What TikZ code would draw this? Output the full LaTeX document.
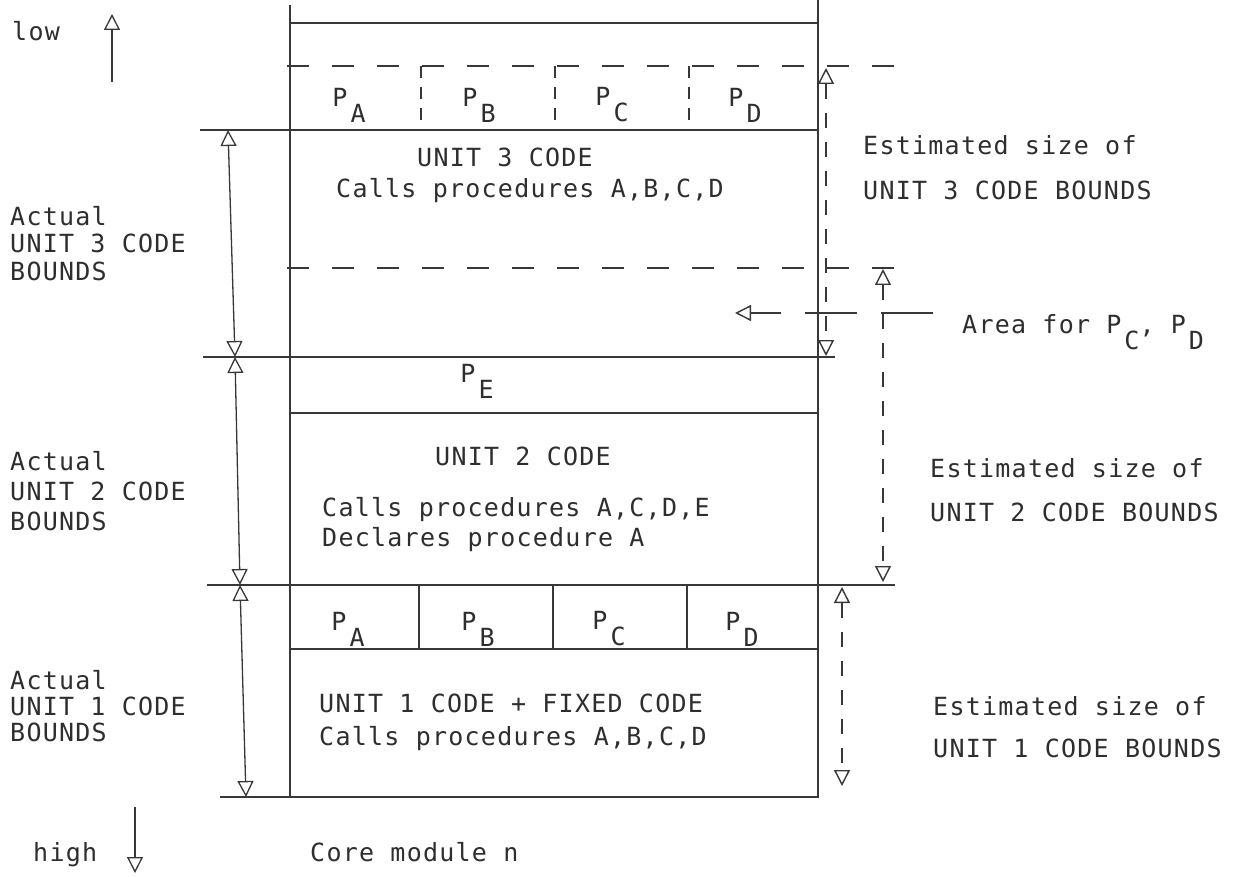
\documentclass[tikz,border=0pt]{standalone}
\usepackage{fontspec}
\newfontfamily\tw[LetterSpace=5]{DejaVu Sans Mono}
\usetikzlibrary{arrows.meta}
\newcommand\Psb[1]{P\kern3pt\raisebox{-16pt}{#1}}
\tikzset{tri/.tip={Triangle[open,length=16pt,width=16pt]}}
\begin{document}
\begin{tikzpicture}[x=1pt,y=-1pt,
  ln/.style={draw=black!78,line width=1.5pt},
  dl/.style={ln,dash pattern=on 22pt off 23pt},
  vd/.style={ln,line width=1.4pt,dash pattern=on 15pt off 14pt},
  ar/.style={ln,line width=1.3pt},
  txt/.style={inner sep=0pt,anchor=base west,text=black!82,font=\tw\fontsize{25}{29}\selectfont},
  ctxt/.style={txt,anchor=base},
  pl/.style={inner sep=0pt,anchor=center,text=black!82,font=\tw\fontsize{25}{29}\selectfont}]
\useasboundingbox[fill=white] (0,0) rectangle (1239,877);

% ---- main frame ----
\draw[ln] (290,5) -- (290,798);
\draw[ln] (818,0) -- (818,798);
\draw[ln] (290,23) -- (818,23);
\draw[dl] (287,66) -- (895,66);
\draw[ln] (200,130) -- (818,130);
\draw[dl] (287,268) -- (895,268);
\draw[ln] (203,357) -- (835,357);
\draw[ln] (290,413) -- (818,413);
\draw[ln] (207,585) -- (895,585);
\draw[ln] (290,649) -- (818,649);
\draw[ln] (220,797) -- (818,797);

% top row dividers (dashed)
\foreach \x in {421,555,689} \draw[ln,dash pattern=on 12pt off 9pt] (\x,66) -- (\x,130);
% bottom row dividers
\foreach \x in {419,553,687} \draw[ln] (\x,585) -- (\x,649);

% ---- P labels ----
\node[pl] (pa1) at (349,105) {\Psb{A}};
\node[pl] (pb1) at (479,105) {\Psb{B}};
\node[pl] (pc1) at (612,105) {\Psb{C}};
\node[pl] (pd1) at (745,105) {\Psb{D}};
\node[pl] (pe)  at (477,381) {\Psb{E}};
\node[pl] (pa2) at (348,629) {\Psb{A}};
\node[pl] (pb2) at (478,629) {\Psb{B}};
\node[pl] (pc2) at (609,629) {\Psb{C}};
\node[pl] (pd2) at (742,629) {\Psb{D}};

% ---- inner texts ----
\node[ctxt] (u3) at (505,167) {UNIT 3 CODE};
\node[txt] (u3c) at (336,198) {Calls procedures A,B,C,D};
\node[ctxt] (u2) at (523,465) {UNIT 2 CODE};
\node[txt] (u2c) at (322,516) {Calls procedures A,C,D,E};
\node[txt] (u2d) at (322,546) {Declares procedure A};
\node[txt] (u1) at (319,712) {UNIT 1 CODE + FIXED CODE};
\node[txt] (u1c) at (319,745) {Calls procedures A,B,C,D};

% ---- left labels ----
\node[txt] (low) at (12,41) {low};
\node[txt] (l3a) at (10,226) {Actual};
\node[txt] (l3b) at (10,253) {UNIT 3 CODE};
\node[txt] (l3c) at (10,280) {BOUNDS};
\node[txt] (l2a) at (10,470) {Actual};
\node[txt] (l2b) at (10,500) {UNIT 2 CODE};
\node[txt] (l2c) at (10,530) {BOUNDS};
\node[txt] (l1a) at (10,689) {Actual};
\node[txt] (l1b) at (10,715) {UNIT 1 CODE};
\node[txt] (l1c) at (10,741) {BOUNDS};
\node[txt] (high) at (33,861) {high};
\node[txt] (core) at (310,861) {Core module n};

% ---- right labels ----
\node[txt] (r3a) at (863,155) {Estimated size of};
\node[txt] (r3b) at (863,200) {UNIT 3 CODE BOUNDS};
\node[txt] (area) at (962,333) {Area for \Psb{C}, \Psb{D}};
\node[txt] (r2a) at (930,477) {Estimated size of};
\node[txt] (r2b) at (930,521) {UNIT 2 CODE BOUNDS};
\node[txt] (r1a) at (933,715) {Estimated size of};
\node[txt] (r1b) at (933,757) {UNIT 1 CODE BOUNDS};

% ---- coordinates for arrows ----
\coordinate (lowS) at (112,82);   \coordinate (lowT) at (112,14);
\coordinate (highS) at (135,807); \coordinate (highT) at (135,873);
\coordinate (a3t) at (228,130); \coordinate (a3b) at (235,357);
\coordinate (a2t) at (235,357); \coordinate (a2b) at (240,585);
\coordinate (a1t) at (240,585); \coordinate (a1b) at (246,797);
\coordinate (e3t) at (826,68);  \coordinate (e3b) at (826,356);
\coordinate (e2t) at (883,269); \coordinate (e2b) at (883,582);
\coordinate (e1t) at (842,587); \coordinate (e1b) at (842,786);
\coordinate (arS) at (933,313); \coordinate (arT) at (735,313);

% ---- arrows ----
\draw[ar,-tri] (lowS) -- (lowT);
\draw[ar,-tri] (highS) -- (highT);
\draw[ar,tri-tri] (a3t) -- (a3b);
\draw[ar,tri-tri] (a2t) -- (a2b);
\draw[ar,tri-tri] (a1t) -- (a1b);
\draw[vd,tri-tri] (e3t) -- (e3b);
\draw[vd,tri-tri] (e2t) -- (e2b);
\draw[vd,tri-tri] (e1t) -- (e1b);
\draw[ln,line width=1.4pt,dash pattern=on 52pt off 24pt,-tri] (arS) -- (arT);
\end{tikzpicture}
\end{document}
